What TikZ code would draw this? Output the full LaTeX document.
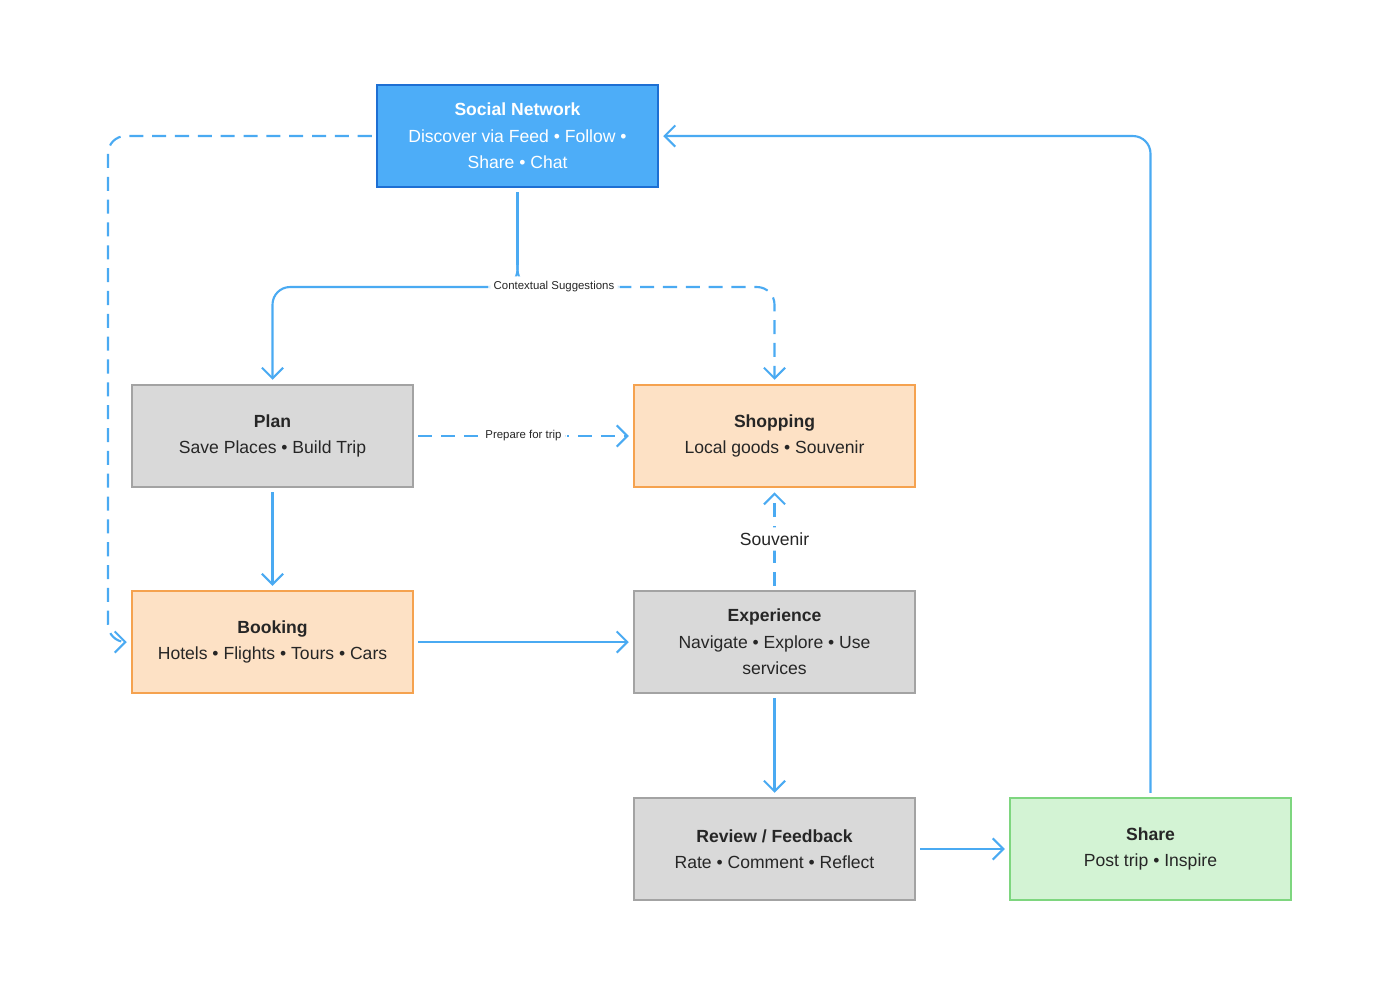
\documentclass[tikz,border=0pt]{standalone}
\usepackage{fontspec}
\setmainfont{Liberation Sans}
\usetikzlibrary{arrows.meta,positioning,calc}
\definecolor{linkblue}{HTML}{4AAAF2}
\definecolor{netfill}{HTML}{4DADF8}
\definecolor{netdraw}{HTML}{1D6FD3}
\definecolor{grayfill}{HTML}{D9D9D9}
\definecolor{graydraw}{HTML}{A3A3A3}
\definecolor{orangefill}{HTML}{FDE1C5}
\definecolor{orangedraw}{HTML}{F5A24F}
\definecolor{greenfill}{HTML}{D3F3D4}
\definecolor{greendraw}{HTML}{7ED67F}
\tikzstyle{stage} = [draw,line width=1.3pt,minimum width=5.62cm,minimum height=2.04cm,align=center,font=\fontsize{10}{15}\selectfont,text=black!85,outer sep=3pt]
\tikzstyle{social} = [stage,fill=netfill,draw=netdraw,text=white]
\tikzstyle{neutral} = [stage,fill=grayfill,draw=graydraw]
\tikzstyle{commerce} = [stage,fill=orangefill,draw=orangedraw]
\tikzstyle{outcome} = [stage,fill=greenfill,draw=greendraw]
\tikzstyle{flow} = [draw=linkblue,line width=1.2pt,arrows={-Straight Barb[length=6pt,width=12pt]},rounded corners=10pt]
\tikzstyle{hint} = [flow,dash pattern=on 8pt off 5pt]
\tikzstyle{tag} = [fill=white,text=black!85,inner sep=3pt]

\begin{document}
\begin{tikzpicture}[x=0.02cm,y=-0.02cm]
                  \useasboundingbox (0,0) rectangle (1400,992);
                  \node (soc)[social]   at (517.5,136) {\textbf{Social Network}\\Discover via Feed • Follow •\\Share • Chat};
                  \node (plan)[neutral] at (272.5,436) {\textbf{Plan}\\Save Places • Build Trip};
                  \node (shop)[commerce] at (774.5,436) {\textbf{Shopping}\\Local goods • Souvenir};
                  \node (book)[commerce] at (272.5,642) {\textbf{Booking}\\Hotels • Flights • Tours • Cars};
                  \node (exp)[neutral]  at (774.5,642) {\textbf{Experience}\\Navigate • Explore • Use\\services};
                  \node (rev)[neutral]  at (774.5,849) {\textbf{Review / Feedback}\\Rate • Comment • Reflect};
                  \node (share)[outcome] at (1150.5,849) {\textbf{Share}\\Post trip • Inspire};
                  \coordinate (split) at (517.5,265);

                  \draw[flow,-] (soc) -- (split);
                  \draw[flow] (split) |- (400,287) -| (plan);
                  \draw[hint] (split) |- node[tag,pos=0.6,font=\fontsize{6.5}{8}\selectfont]{Contextual Suggestions} (700,287) -| (shop);
                  \draw[hint] (soc.west) -| (108,400) |- (book.west);
                  \draw[hint] (plan) -- node[tag,font=\fontsize{6.5}{8}\selectfont]{Prepare for trip} (shop);
                  \draw[hint] (exp) -- node[tag,font=\fontsize{10}{12}\selectfont]{Souvenir} (shop);
                  \draw[flow] (plan) -- (book);
                  \draw[flow] (book) -- (exp);
                  \draw[flow] (exp) -- (rev);
                  \draw[flow] (rev) -- (share);
                  \draw[flow] (share) |- (soc.east);
            \end{tikzpicture}
\end{document}
